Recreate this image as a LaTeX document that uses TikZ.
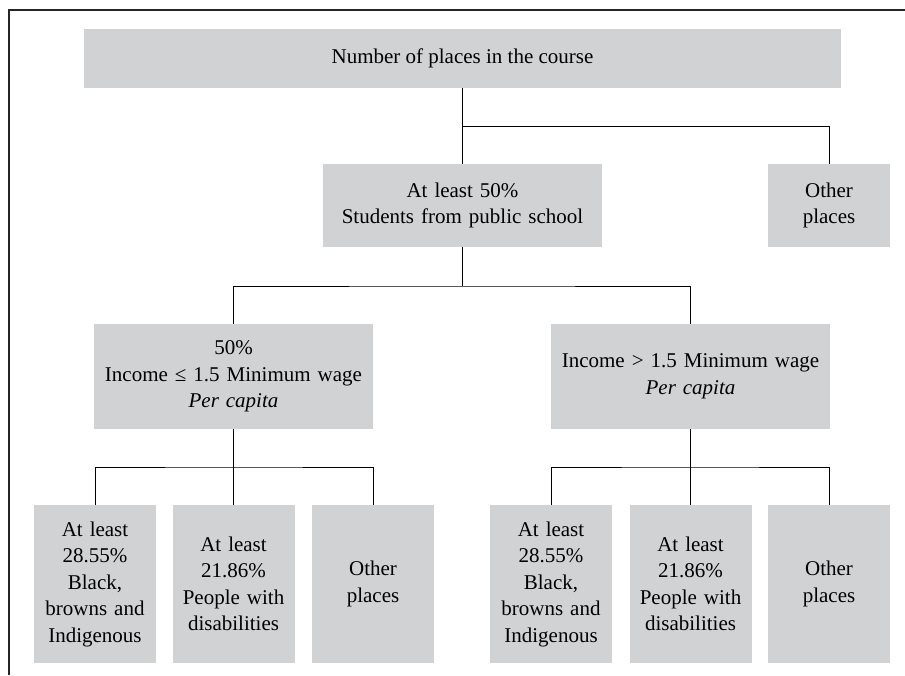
\documentclass[tikz,border=0pt]{standalone}
\usepackage{fontspec}
\setmainfont{Liberation Serif}
\usepackage{tikz}
\usepackage{xcolor}
\definecolor{boxgray}{HTML}{D1D2D4}

\begin{document}
\begin{tikzpicture}[x=1pt, y=-1pt]
        % Box and line style definitions
        \tikzset{
            quota/.style={fill=boxgray, draw=none, inner sep=0pt, align=center,
                font=\fontsize{21}{26.5}\selectfont},
            wide/.style={quota, minimum width=279pt, minimum height=105pt, text width=275pt},
            small/.style={quota, minimum width=122pt, minimum height=158pt, text width=120pt},
            link/.style={black, line width=1pt},
            frame/.style={black!85, line width=1.5pt}
        }
        \useasboundingbox (0,0) rectangle (905,675);
        \draw[frame] (9,675) -- (9,10) -- (905,10);

        % ==========================================
        % TOP LEVELS
        % ==========================================

        \node[quota, minimum width=757pt, minimum height=59pt] (course) at (462.5,58.5) {Number of places in the course};
        \node[quota, minimum width=279pt, minimum height=83pt, text width=275pt] (public) at (462.5,205.5) {At least 50\%\\Students from public school};
        \node[quota, minimum width=122pt, minimum height=83pt, text width=120pt] (rest) at (829,205.5) {Other\\places};

        \coordinate (j1) at (462.5,126);
        \draw[link] (course.south) -- (public.north);
        \draw[link] (j1) -| (rest.north);

        % ==========================================
        % INCOME LEVEL
        % ==========================================

        \node[wide] (low) at (233.5,376.5) {50\%\\Income ≤ 1.5 Minimum wage\\\textit{Per capita}};
        \node[wide] (high) at (690.5,376.5) {Income > 1.5 Minimum wage\\\textit{Per capita}};

        \coordinate (j2) at (462.5,286);
        \draw[link] (public.south) -- (j2);
        \draw[link] (low.north) |- (j2) -| (high.north);

        % ==========================================
        % BOTTOM QUOTAS
        % ==========================================

        \node[small] (lowA) at (95,584) {At least\\28.55\%\\Black,\\browns and\\Indigenous};
        \node[small] (lowB) at (233.5,584) {At least\\21.86\%\\People with\\disabilities};
        \node[small] (lowC) at (373,584) {Other\\places};

        \node[small] (highA) at (551,584) {At least\\28.55\%\\Black,\\browns and\\Indigenous};
        \node[small] (highB) at (690.5,584) {At least\\21.86\%\\People with\\disabilities};
        \node[small] (highC) at (829,584) {Other\\places};

        \coordinate (j3) at (233.5,467);
        \coordinate (j4) at (690.5,467);
        \draw[link] (low.south) -- (lowB.north);
        \draw[link] (lowA.north) |- (j3) -| (lowC.north);
        \draw[link] (high.south) -- (highB.north);
        \draw[link] (highA.north) |- (j4) -| (highC.north);
    \end{tikzpicture}
\end{document}
